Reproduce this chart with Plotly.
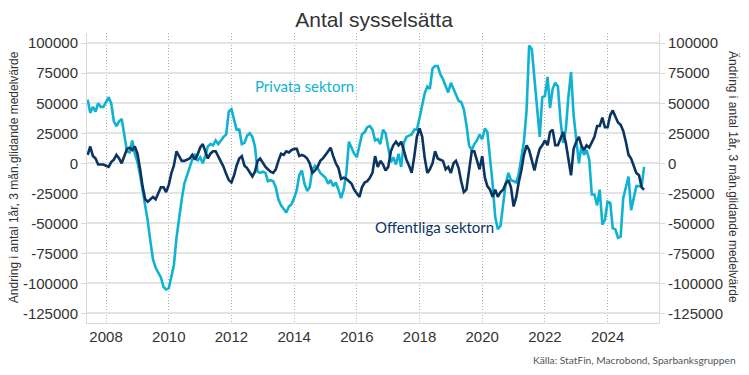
import plotly.graph_objects as go
import pandas as pd

# Monthly data, Jun 2007 - Mar 2025 (thousands of persons, 1-year change, 3m moving avg)
start_month = "2007-06-01"
privata_k = [
    53, 42, 47, 43, 50, 47, 47, 51, 55, 50,
    35, 31, 35, 37, 22, 10, 9, 19, 8, 1,
    -10, -22, -35, -48, -65, -80, -87, -91, -95, -103,
    -105, -104, -95, -85, -62, -45, -30, -17, -10, -3,
    3, 8, 2, 5, 0, 6, 14, 16, 15, 19,
    16, 19, 22, 24, 43, 45, 36, 28, 28, 16,
    17, 23, 25, 22, 14, -7, -8, -7, -8, -15,
    -14, -15, -20, -30, -35, -38, -41, -36, -34, -29,
    -22, -10, -6, -17, -23, -20, -5, -2, -4, -8,
    -10, -12, -17, -14, -19, -16, -22, -29, -22, -8,
    18, 13, 8, 5, 15, 24, 26, 30, 31, 28,
    19, 20, 16, 28, 25, 14, 1, 5, -1, 8,
    -3, 17, 22, 23, 24, 28, 28, 38, 48, 58,
    64, 62, 79, 81, 81, 74, 70, 65, 59, 67,
    62, 58, 52, 51, 45, 32, 15, 11, 16, 19,
    24, 20, 29, 26, 6, -17, -45, -55, -52, -35,
    -17, -8, -14, -15, -16, -9, 5, 18, 44, 98,
    95, 72, 45, 22, 55, 56, 72, 46, 62, 67,
    64, 36, 17, 28, 55, 76, 40, 19, 0, 14,
    7, 11, 3, -26, -26, -35, -22, -51, -47, -32,
    -33, -54, -55, -62, -61, -29, -19, -11, -39, -28,
    -19, -19, -19, -3,
]
offentliga_k = [
    7, 14, 6, 4, -1, -1, -1, -2, -3, 1,
    3, 7, 4, 0, 6, 12, 13, 11, 14, 8,
    -5, -19, -30, -32, -30, -28, -30, -24, -20, -20,
    -24, -18, -8, -2, 10, 6, 2, 2, 3, 4,
    7, 3, 7, 13, 16, 10, 4, 8, 10, 10,
    6, 2, -3, -9, -14, -16, -10, -2, 4, 6,
    -2, -4, -8, -11, -7, 2, 4, 0, -3, -5,
    -7, -8, -5, 2, 8, 7, 10, 9, 11, 12,
    12, 6, 7, 6, 4, 0, -8, -6, -3, 2,
    4, 7, 10, 13, 6, 0, -4, -13, -12, -13,
    -15, -17, -22, -25, -28, -20, -16, -15, -12, -8,
    6, -3, 2, -1, -6, -3, 10, 15, 18, 15,
    18, 11, 3, -2, -8, 6, 22, 29, 22, 5,
    -8, -5, 0, 10, 4, 3, 2, -5, -3, -8,
    0, 2, -4, -15, -24, -22, -5, 10, 10, 3,
    -5, 6, -12, -19, -22, -28, -22, -28, -24, -22,
    -17, -14, -20, -36, -28, -16, -6, 7, 15, 11,
    2, -6, 4, 12, 15, 19, 15, 26, 28, 15,
    15, 21, 26, 17, 3, -10, 12, 18, 22, 15,
    11, 15, 13, 17, 22, 31, 31, 38, 30, 30,
    40, 44, 39, 34, 32, 27, 18, 7, 4, -3,
    -8, -10, -20, -22,
]
y_ticks = [100000, 75000, 50000, 25000, 0, -25000, -50000, -75000, -100000, -125000]
y_ticklabels = [str(v) for v in y_ticks]

dates = pd.date_range(start_month, periods=len(privata_k), freq="MS")
privata = [v * 1000 for v in privata_k]
offentliga = [v * 1000 for v in offentliga_k]

LIGHT = "#0fb3d1"
NAVY = "#0b3461"
TXT = "#333333"
axis_title = "Ändring i antal 1år, 3 mån.glidande medelvärde"
yr = [-133000, 108500]

fig = go.Figure()
fig.add_trace(go.Scatter(x=dates, y=privata, mode="lines", name="Privata sektorn",
                         line=dict(color=LIGHT, width=2.6), yaxis="y"))
fig.add_trace(go.Scatter(x=dates, y=offentliga, mode="lines", name="Offentliga sektorn",
                         line=dict(color=NAVY, width=2.6), yaxis="y2"))

tickfont = dict(family="Liberation Sans, Arial, sans-serif", size=15, color=TXT)

# The page body adds an 8px offset, so the figure is 8px smaller on each axis.
fig.update_layout(
    width=741, height=367,
    margin=dict(l=79, r=90, t=25, b=52, autoexpand=False),
    paper_bgcolor="white", plot_bgcolor="white",
    showlegend=False,
    title=dict(text="Antal sysselsätta", x=0.494, xanchor="center", y=0.967, yanchor="middle",
               font=dict(family="Liberation Sans, Arial, sans-serif", size=21, color=TXT)),
    xaxis=dict(type="date", range=["2007-05-24", "2025-08-22"], automargin=False,
               tick0="2008-01-01", dtick="M24", tickformat="%Y",
               showgrid=True, gridcolor="#b0b0b0", griddash="1px,2px", gridwidth=1,
               showline=True, linecolor="#d9d9d9", linewidth=1,
               ticks="", tickfont=tickfont),
    yaxis=dict(range=yr, tickvals=y_ticks, ticktext=y_ticklabels, automargin=False,
               showgrid=True, gridcolor="#e4e4e4", gridwidth=1.5, zeroline=False,
               showline=True, linecolor="#d9d9d9", linewidth=1,
               ticks="outside", ticklen=5, tickcolor="#d9d9d9", tickfont=tickfont),
    yaxis2=dict(range=yr, tickvals=y_ticks, ticktext=y_ticklabels, overlaying="y", side="right",
                automargin=False, showgrid=False, zeroline=False,
                showline=True, linecolor="#d9d9d9", linewidth=1,
                ticks="outside", ticklen=5, tickcolor="#d9d9d9", tickfont=tickfont),
    annotations=[
        dict(text="Privata sektorn", xref="paper", yref="paper", x=0.381, y=0.817,
             xanchor="center", yanchor="middle",
             showarrow=False, font=dict(family="Lato, sans-serif", size=15, color=LIGHT)),
        dict(text="Offentliga sektorn", xref="paper", yref="paper", x=0.608, y=0.331,
             xanchor="center", yanchor="middle",
             showarrow=False, font=dict(family="Lato, sans-serif", size=15, color=NAVY)),
        dict(text=axis_title, xref="paper", yref="paper", x=-0.1276, y=0.503, textangle=-90,
             xanchor="center", yanchor="middle",
             showarrow=False, font=dict(family="Liberation Sans, Arial, sans-serif", size=12, color=TXT)),
        dict(text=axis_title, xref="paper", yref="paper", x=1.1294, y=0.503, textangle=90,
             xanchor="center", yanchor="middle",
             showarrow=False, font=dict(family="Liberation Sans, Arial, sans-serif", size=12, color=TXT)),
        dict(text="Källa: StatFin, Macrobond, Sparbanksgruppen", xref="paper", yref="paper",
             x=1.138, y=-0.128, xanchor="right", yanchor="middle",
             showarrow=False, font=dict(family="Lato, sans-serif", size=10.2, color="#555555")),
    ],
)

fig.write_html("out.html")
